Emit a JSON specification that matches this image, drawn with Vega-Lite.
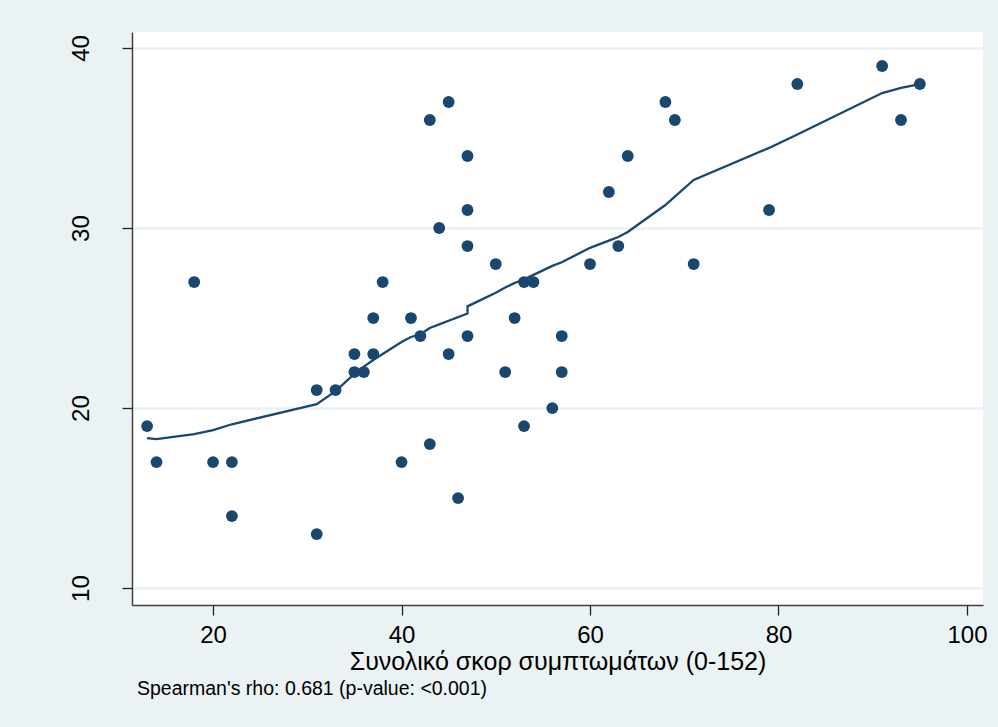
{
  "$schema": "https://vega.github.io/schema/vega-lite/v6.json",
  "autosize": "none",
  "width": 851,
  "height": 573,
  "padding": {"left": 132, "top": 32, "right": 15, "bottom": 122},
  "background": "#EAF2F3",
  "config": {
    "font": "Liberation Sans",
    "view": {"fill": "#FFFFFF", "stroke": null}
  },
  "title": {
    "text": "Spearman's rho: 0.681 (p-value: <0.001)",
    "orient": "bottom",
    "anchor": "start",
    "frame": "group",
    "dx": 5,
    "offset": 6,
    "fontSize": 19.5,
    "fontWeight": "normal",
    "color": "#000000",
    "font": "Liberation Sans"
  },
  "datasets": {
    "pts": [
      {"score": 13, "y": 19}, {"score": 14, "y": 17}, {"score": 18, "y": 27},
      {"score": 20, "y": 17}, {"score": 22, "y": 17}, {"score": 22, "y": 14},
      {"score": 31, "y": 21}, {"score": 31, "y": 13}, {"score": 33, "y": 21},
      {"score": 35, "y": 23}, {"score": 35, "y": 22}, {"score": 36, "y": 22},
      {"score": 37, "y": 25}, {"score": 37, "y": 23}, {"score": 38, "y": 27},
      {"score": 40, "y": 17}, {"score": 41, "y": 25}, {"score": 42, "y": 24},
      {"score": 43, "y": 36}, {"score": 43, "y": 18}, {"score": 44, "y": 30},
      {"score": 45, "y": 37}, {"score": 45, "y": 23}, {"score": 46, "y": 15},
      {"score": 47, "y": 34}, {"score": 47, "y": 31}, {"score": 47, "y": 29},
      {"score": 47, "y": 24}, {"score": 50, "y": 28}, {"score": 51, "y": 22},
      {"score": 52, "y": 25}, {"score": 53, "y": 27}, {"score": 53, "y": 19},
      {"score": 54, "y": 27}, {"score": 56, "y": 20}, {"score": 57, "y": 24},
      {"score": 57, "y": 22}, {"score": 60, "y": 28}, {"score": 62, "y": 32},
      {"score": 63, "y": 29}, {"score": 64, "y": 34}, {"score": 68, "y": 37},
      {"score": 69, "y": 36}, {"score": 71, "y": 28}, {"score": 79, "y": 31},
      {"score": 82, "y": 38}, {"score": 91, "y": 39}, {"score": 93, "y": 36},
      {"score": 95, "y": 38}
    ],
    "fit": [
      {"i": 1, "score": 13, "fit": 18.33}, {"i": 2, "score": 14, "fit": 18.28},
      {"i": 3, "score": 18, "fit": 18.55}, {"i": 4, "score": 20, "fit": 18.78},
      {"i": 5, "score": 22, "fit": 19.1}, {"i": 6, "score": 31, "fit": 20.22},
      {"i": 7, "score": 33, "fit": 20.94}, {"i": 8, "score": 35, "fit": 21.9},
      {"i": 9, "score": 36, "fit": 22.3}, {"i": 10, "score": 37, "fit": 22.67},
      {"i": 11, "score": 38, "fit": 23.0}, {"i": 12, "score": 40, "fit": 23.67},
      {"i": 13, "score": 41, "fit": 23.95}, {"i": 14, "score": 42, "fit": 24.1},
      {"i": 15, "score": 43, "fit": 24.45}, {"i": 16, "score": 44, "fit": 24.65},
      {"i": 17, "score": 45, "fit": 24.85}, {"i": 18, "score": 46, "fit": 25.05},
      {"i": 19, "score": 47, "fit": 25.25}, {"i": 20, "score": 47, "fit": 25.65},
      {"i": 21, "score": 50, "fit": 26.4}, {"i": 22, "score": 51, "fit": 26.7},
      {"i": 23, "score": 52, "fit": 26.95}, {"i": 24, "score": 53, "fit": 27.15},
      {"i": 25, "score": 54, "fit": 27.4}, {"i": 26, "score": 56, "fit": 27.9},
      {"i": 27, "score": 57, "fit": 28.1}, {"i": 28, "score": 60, "fit": 28.9},
      {"i": 29, "score": 62, "fit": 29.3}, {"i": 30, "score": 63, "fit": 29.5},
      {"i": 31, "score": 64, "fit": 29.78}, {"i": 32, "score": 68, "fit": 31.28},
      {"i": 33, "score": 69, "fit": 31.75}, {"i": 34, "score": 71, "fit": 32.67},
      {"i": 35, "score": 79, "fit": 34.45}, {"i": 36, "score": 82, "fit": 35.2},
      {"i": 37, "score": 91, "fit": 37.5}, {"i": 38, "score": 93, "fit": 37.78},
      {"i": 39, "score": 95, "fit": 38.0}
    ]
  },
  "encoding": {
    "x": {
      "field": "score",
      "type": "quantitative",
      "scale": {"domain": [11.4, 101.7], "nice": false, "zero": false},
      "axis": {
        "title": "Συνολικό σκορ συμπτωμάτων (0-152)",
        "values": [20, 40, 60, 80, 100],
        "grid": false,
        "domainColor": "#404040",
        "domainWidth": 1.5,
        "tickColor": "#202020",
        "tickWidth": 1.3,
        "tickSize": 10,
        "labelFontSize": 24,
        "labelColor": "#000000",
        "labelPadding": 8,
        "labelFont": "Liberation Sans",
        "titleFont": "Liberation Sans",
        "titleFontSize": 25,
        "titleFontWeight": "normal",
        "titleColor": "#000000",
        "titlePadding": 2
      }
    }
  },
  "layer": [
    {
      "data": {"name": "pts"},
      "mark": {"type": "point", "shape": "circle", "filled": true, "size": 140, "opacity": 1, "color": "#1A476F"},
      "encoding": {
        "y": {
          "field": "y",
          "type": "quantitative",
          "scale": {"domain": [9.06, 40.89], "nice": false, "zero": false},
          "axis": {
            "title": null,
            "values": [10, 20, 30, 40],
            "grid": true,
            "gridColor": "#EAF2F3",
            "gridWidth": 2.5,
            "domainColor": "#404040",
            "domainWidth": 1.5,
            "tickColor": "#202020",
            "tickWidth": 1.3,
            "tickSize": 10,
            "labelFontSize": 24,
            "labelColor": "#000000",
            "labelAngle": -90,
            "labelAlign": "center",
            "labelBaseline": "alphabetic",
            "labelPadding": 34,
            "labelFont": "Liberation Sans"
          }
        }
      }
    },
    {
      "data": {"name": "fit"},
      "mark": {"type": "line", "color": "#1A476F", "strokeWidth": 2.3},
      "encoding": {
        "y": {"field": "fit", "type": "quantitative"},
        "order": {"field": "i", "type": "quantitative"}
      }
    }
  ]
}
